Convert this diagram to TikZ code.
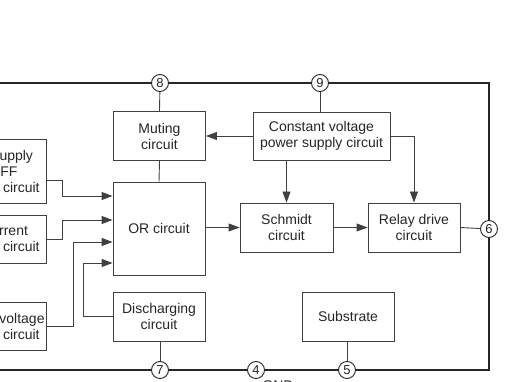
\documentclass[tikz,border=0pt]{standalone}
\usepackage{fontspec}
\setmainfont{Liberation Sans}
\usetikzlibrary{arrows.meta,positioning,calc}
\tikzset{
    block/.style={
        rectangle, draw=black!75, line width=0.9pt, fill=white,
        minimum width=92pt, minimum height=49pt, inner sep=0pt,
        align=center, text=black!85, font=\fontsize{14}{16}\selectfont
    },
    pinmark/.style={
        circle, draw=black!85, line width=0.9pt, fill=white,
        minimum size=17pt, inner sep=0pt,
        text=black!85, font=\fontsize{13}{13}\selectfont
    },
    arrow/.style={-{Triangle[length=11pt,width=8pt]}, line width=0.9pt, draw=black!75},
    link/.style={line width=0.9pt, draw=black!75},
    chipframe/.style={line width=1.8pt, draw=black!85}
}

\begin{document}
\begin{tikzpicture}[x=1pt, y=-1pt]

\useasboundingbox (0,0) rectangle (517,382);
\clip (0,0) rectangle (517,382);

%% IC outline (left side runs off the page)
\draw[chipframe] (-130,83) rectangle (489,370);

%% Pins on the outline
\node[pinmark] (p8) at (160,83)  {8};
\node[pinmark] (p9) at (320,83)  {9};
\node[pinmark] (p6) at (489,229) {6};
\node[pinmark] (p7) at (160,370) {7};
\node[pinmark] (p4) at (256,370) {4};
\node[pinmark] (p5) at (347,370) {5};
\node[font=\fontsize{14}{16}\selectfont, text=black!85, anchor=base] (gnd) at (278,390) {GND};

%% Detection blocks on the left
\node[block, minimum width=110pt, minimum height=64pt] (pwron) at (-9,171)
    {Power supply\\ON/OFF\\detection circuit};
\node[block, minimum width=110pt, minimum height=48pt] (ocd) at (-9,239)
    {Overcurrent\\detection circuit};
\node[block, minimum width=110pt, minimum height=48pt] (dcd) at (-9,326)
    {DC offset voltage\\detection circuit};

%% Inner blocks
\node[block] (mute) at (159.5,136) {Muting\\circuit};
\node[block, minimum width=137pt, minimum height=48pt] (cvps) at (321.5,136)
    {Constant voltage\\power supply circuit};
\node[block, minimum height=93pt] (orc) at (159,228.5) {OR circuit};
\node[block, minimum width=93pt] (sch) at (286.5,227.5) {Schmidt\\circuit};
\node[block] (relay) at (414,227.5) {Relay drive\\circuit};
\node[block] (dis) at (159,316.5) {Discharging\\circuit};
\node[block] (sub) at (348,316.5) {Substrate};

%% Inputs to the OR circuit
\draw[arrow] ([yshift=-9pt]pwron.east) -- ++(16,0) |- ([yshift=32.5pt]orc.west);
\draw[arrow] (ocd.east) -- ++(16,0) |- ([yshift=8.5pt]orc.west);
\draw[arrow] (dcd.east) -- ++(27,0) |- ([yshift=-13.5pt]orc.west);
\draw[arrow] (dis.west) -- ++(-29,0) |- ([yshift=-34.5pt]orc.west);

%% Signal path
\draw[arrow] (orc.east |- sch.west) -- (sch.west);
\draw[arrow] (sch.east) -- (relay.west);
\draw[link] (relay.east) -- (p6);

%% Constant voltage supply
\draw[arrow] (cvps.west) -- (mute.east);
\draw[arrow] (sch.north |- cvps.south) -- (sch.north);
\draw[arrow] (cvps.east) -| (relay.north);

%% Pin connections
\draw[link] (mute.north) -- (p8);
\draw[link] (mute.south) -- (orc.north);
\draw[link] (cvps.north -| p9) -- (p9);
\draw[link] (dis.south -| p7) -- (p7);
\draw[link] (sub.south -| p5) -- (p5);

\end{tikzpicture}
\end{document}
